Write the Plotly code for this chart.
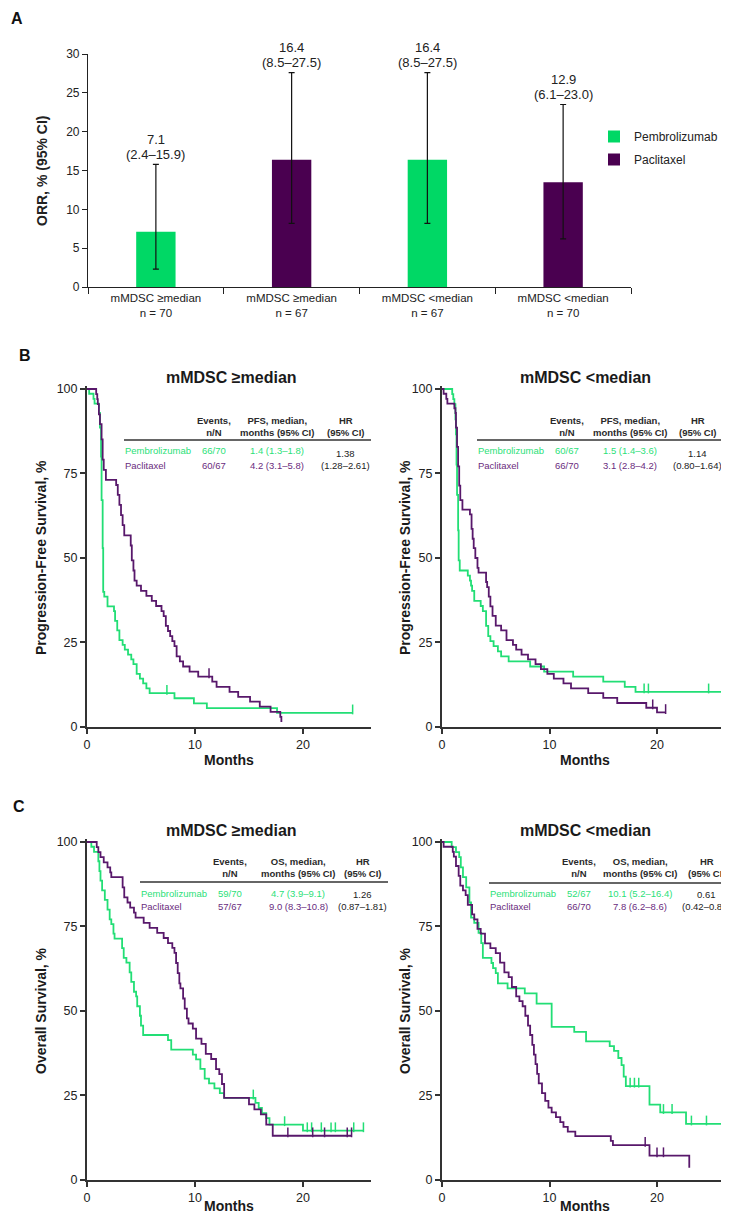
import plotly.graph_objects as go

W, H = 729, 1212
GREEN_BAR = "#00D865"
PURPLE_BAR = "#4A0050"
GREEN_LINE = "#22DE75"
PURPLE_LINE = "#58186B"
GREEN_TXT = "#2BDF78"
PURPLE_TXT = "#6A2C7E"
DARK = "#2a2a2a"
NARROW = "Liberation Sans Narrow, Arial Narrow, Liberation Sans, Arial, sans-serif"
ARIAL = "Liberation Sans, Arial, Helvetica, sans-serif"

# ---------------- Panel A data ----------------
orr_categories = ["mMDSC ≥median<br>n = 70", "mMDSC ≥median<br>n = 67",
                  "mMDSC &lt;median<br>n = 67", "mMDSC &lt;median<br>n = 70"]
orr_arm = ["Pembrolizumab", "Paclitaxel", "Pembrolizumab", "Paclitaxel"]
orr_value = [7.1, 16.4, 16.4, 13.5]
orr_ci_low = [2.3, 8.2, 8.2, 6.2]
orr_ci_high = [15.8, 27.6, 27.6, 23.5]
orr_label = ["7.1", "16.4", "16.4", "12.9"]
orr_ci_label = ["(2.4–15.9)", "(8.5–27.5)", "(8.5–27.5)", "(6.1–23.0)"]
orr_yticks = [0, 5, 10, 15, 20, 25, 30]

# ---------------- Panel B: PFS ----------------
pfs_hi_pem_t = [0, 0.2, 0.6, 0.7, 1.1, 1.2, 1.3, 1.35, 1.45, 1.5, 1.6, 1.9, 2.5, 2.6, 2.8, 3.0, 3.3, 3.5,
                3.8, 4.1, 4.3, 4.6, 4.9, 5.2, 5.5, 5.8, 8.1, 9.9, 11.1, 17.6]
pfs_hi_pem_s = [100, 98.6, 97.1, 95.7, 92.9, 88.6, 80.0, 67.1, 52.9, 40.0, 38.6, 35.7, 34.3, 31.4, 28.6, 25.7,
                24.3, 22.9, 21.4, 20.0, 18.6, 15.7, 14.3, 12.9, 11.4, 10.0, 8.5, 7.0, 5.6, 4.2]
pfs_hi_pem_cens = [7.4, 24.6]

pfs_hi_pac_t = [0, 0.85, 0.95, 1.0, 1.1, 1.2, 1.35, 1.45, 1.55, 1.75, 2.7, 2.85, 3.0, 3.15, 3.3, 3.45, 4.05,
                4.15, 4.3, 4.4, 4.6, 5.0, 5.5, 6.0, 6.4, 6.9, 7.1, 7.3, 7.5, 7.7, 7.9, 8.1, 8.3, 8.6, 8.9,
                9.5, 10.3, 11.6, 12.0, 13.2, 14.0, 15.1, 16.0, 17.0, 17.9, 18.0]
pfs_hi_pac_s = [100, 98.5, 97.0, 95.5, 92.5, 89.6, 85.1, 79.1, 76.1, 73.1, 71.6, 68.7, 65.7, 62.7, 59.7, 56.7,
                53.7, 49.3, 46.3, 43.3, 41.8, 40.3, 38.8, 37.3, 35.8, 34.3, 32.8, 29.9, 28.4, 26.9, 25.4,
                23.9, 20.9, 19.4, 17.9, 16.4, 14.9, 13.4, 11.9, 10.4, 8.9, 7.5, 6.0, 4.5, 3.0, 1.5]
pfs_hi_pac_cens = [11.3]

pfs_lo_pem_t = [0, 0.95, 1.05, 1.15, 1.25, 1.3, 1.35, 1.4, 1.5, 1.55, 1.65, 2.4, 2.6, 2.7, 2.8, 3.0, 3.6,
                3.8, 4.1, 4.3, 4.5, 4.8, 5.2, 5.5, 6.2, 8.2, 9.5, 12.2, 15.0, 17.0, 18.0]
pfs_lo_pem_s = [100, 98.5, 97.0, 95.5, 91.0, 86.6, 77.6, 68.7, 58.2, 49.3, 46.3, 44.8, 43.3, 41.8, 40.3,
                37.3, 35.8, 34.3, 29.9, 26.9, 25.4, 23.9, 22.4, 20.9, 19.4, 17.9, 16.4, 14.9, 13.4, 11.9, 10.4]
pfs_lo_pem_cens = [18.8, 19.2, 24.8, 26.6]

pfs_lo_pac_t = [0, 0.15, 0.4, 0.5, 1.15, 1.25, 1.3, 1.4, 1.5, 1.6, 1.7, 1.9, 2.6, 2.75, 2.85, 2.95, 3.1,
                3.3, 3.4, 4.1, 4.2, 4.35, 4.5, 4.7, 5.0, 5.5, 6.0, 6.6, 6.9, 7.4, 8.0, 8.7, 9.2, 9.8, 10.4,
                11.3, 12.0, 13.6, 15.0, 16.3, 19.0, 20.0]
pfs_lo_pac_s = [100, 98.6, 97.1, 95.7, 94.3, 92.9, 88.6, 82.9, 77.1, 71.4, 67.1, 64.3, 62.9, 58.6, 55.7,
                52.9, 50.0, 47.1, 45.7, 42.9, 41.4, 38.6, 35.7, 32.9, 30.0, 28.6, 25.7, 24.3, 22.9, 21.4,
                20.0, 18.6, 17.1, 15.7, 14.3, 12.9, 11.4, 10.0, 8.6, 7.1, 5.7, 4.3]
pfs_lo_pac_cens = [19.6, 20.8]

# ---------------- Panel C: OS ----------------
os_hi_pem_t = [0, 0.4, 0.65, 1.05, 1.15, 1.25, 1.4, 1.65, 1.9, 2.1, 2.25, 2.45, 2.55, 3.25, 3.4, 3.65, 3.95,
               4.1, 4.35, 4.55, 4.65, 4.9, 5.0, 5.2, 7.5, 7.8, 9.8, 10.1, 10.5, 10.9, 11.3, 11.8, 12.3,
               12.7, 15.6, 15.9, 16.2, 16.6, 16.9, 20.0]
os_hi_pem_s = [100, 98.6, 97.1, 94.3, 91.4, 88.6, 85.7, 82.9, 80.0, 77.1, 75.7, 72.9, 71.4, 68.6, 65.7,
               64.3, 61.4, 58.6, 55.7, 54.3, 51.4, 48.6, 45.7, 42.9, 41.4, 38.6, 37.1, 35.7, 32.9, 30.0,
               28.6, 27.1, 25.7, 24.3, 22.8, 21.3, 19.8, 18.3, 16.4, 14.6]
os_hi_pem_cens = [15.4, 18.3, 20.4, 20.8, 21.7, 22.6, 23.0, 24.7, 25.6]

os_hi_pac_t = [0, 0.9, 1.05, 1.25, 1.55, 1.9, 2.15, 2.25, 3.3, 3.45, 3.75, 4.0, 4.35, 4.5, 5.25, 5.8, 6.5,
               7.1, 7.5, 7.9, 8.1, 8.25, 8.4, 8.55, 8.65, 8.9, 9.05, 9.25, 9.4, 9.8, 10.1, 10.6, 11.0, 11.5,
               11.95, 12.25, 12.5, 12.7, 15.0, 15.5, 16.1, 16.6, 17.2]
os_hi_pac_s = [100, 98.5, 97.0, 95.5, 94.0, 92.5, 91.0, 89.6, 86.6, 83.6, 82.1, 80.6, 79.1, 77.6, 76.1,
               74.6, 73.1, 71.6, 70.1, 68.7, 67.2, 64.2, 61.2, 58.2, 56.7, 53.7, 50.7, 47.8, 46.3, 44.8,
               41.8, 40.3, 37.3, 35.8, 32.8, 31.3, 28.4, 24.3, 22.4, 20.9, 19.4, 16.4, 13.1]
os_hi_pac_cens = [18.6, 20.9, 22.0, 24.1, 24.5]

os_lo_pem_t = [0, 0.9, 1.3, 1.6, 1.75, 1.95, 2.25, 2.55, 2.7, 3.0, 3.4, 3.65, 3.8, 4.6, 4.75, 5.0, 5.2,
               6.1, 7.7, 8.8, 10.2, 12.3, 13.4, 15.6, 16.0, 16.4, 16.7, 16.9, 17.1, 19.3, 20.3, 22.7]
os_lo_pem_s = [100, 98.5, 97.0, 95.5, 92.5, 89.6, 86.6, 82.1, 77.6, 76.1, 73.1, 70.1, 65.7, 64.2, 62.7,
               61.2, 58.2, 56.7, 55.2, 52.2, 45.3, 43.8, 41.0, 39.6, 38.2, 36.1, 34.0, 30.6, 27.8, 22.3,
               20.0, 16.6]
os_lo_pem_cens = [17.5, 17.9, 18.3, 20.6, 21.4, 23.2, 24.6, 26.3]

os_lo_pac_t = [0, 0.15, 1.0, 1.1, 1.3, 1.55, 1.7, 1.95, 2.2, 2.4, 2.8, 3.0, 3.3, 3.6, 4.0, 4.5, 5.0, 5.4,
               5.8, 6.2, 6.5, 6.9, 7.2, 7.5, 7.75, 8.0, 8.2, 8.4, 8.55, 8.7, 8.85, 9.0, 9.3, 9.6, 9.9,
               10.2, 10.6, 11.0, 11.3, 11.7, 12.4, 15.7, 15.9, 19.3, 23.0]
os_lo_pac_s = [100, 98.6, 97.1, 95.7, 92.9, 90.0, 87.1, 85.7, 84.3, 81.4, 78.6, 77.1, 74.3, 72.9, 70.0,
               68.6, 67.1, 64.3, 61.4, 60.0, 57.1, 54.3, 52.9, 51.4, 48.6, 45.7, 42.9, 40.0, 37.1, 34.3,
               31.4, 28.6, 25.7, 23.4, 21.4, 20.0, 18.6, 17.1, 15.7, 14.3, 13.0, 11.6, 10.3, 7.2, 3.6]
os_lo_pac_cens = [18.9, 20.0, 20.6]

km_xticks = [0, 10, 20]
km_yticks = [0, 25, 50, 75, 100]

# ---------------- Table text ----------------
tab_headers_pfs = ["Events,<br>n/N", "PFS, median,<br>months (95% CI)", "HR<br>(95% CI)"]
tab_headers_os = ["Events,<br>n/N", "OS, median,<br>months (95% CI)", "HR<br>(95% CI)"]
arm_names = ["Pembrolizumab", "Paclitaxel"]
pfs_hi_events = ["66/70", "60/67"]
pfs_hi_median = ["1.4 (1.3–1.8)", "4.2 (3.1–5.8)"]
pfs_hi_hr = "1.38<br>(1.28–2.61)"
pfs_lo_events = ["60/67", "66/70"]
pfs_lo_median = ["1.5 (1.4–3.6)", "3.1 (2.8–4.2)"]
pfs_lo_hr = "1.14<br>(0.80–1.64)"
os_hi_events = ["59/70", "57/67"]
os_hi_median = ["4.7 (3.9–9.1)", "9.0 (8.3–10.8)"]
os_hi_hr = "1.26<br>(0.87–1.81)"
os_lo_events = ["52/67", "66/70"]
os_lo_median = ["10.1 (5.2–16.4)", "7.8 (6.2–8.6)"]
os_lo_hr = "0.61<br>(0.42–0.88)"


def px(x):
    return x / W


def py(y):
    return 1 - y / H


def ann(x, y, text, size, color=DARK, bold=False, xanchor="center", yanchor="middle",
        family=ARIAL, angle=0):
    return dict(x=px(x), y=py(y), xref="paper", yref="paper",
                text=f"<b>{text}</b>" if bold else text, showarrow=False,
                font=dict(size=size, color=color, family=family),
                xanchor=xanchor, yanchor=yanchor, textangle=angle, borderpad=0)


def step_xy(t, s, cens):
    end = max([t[-1]] + list(cens))
    return list(t) + [end], list(s) + [s[-1]]


def surv_at(t, s, c):
    v = s[0]
    for ti, si in zip(t, s):
        if ti <= c:
            v = si
    return v


fig = go.Figure()
annotations = []
shapes = []

# ---------------- Panel A ----------------
for arm, color in [("Pembrolizumab", GREEN_BAR), ("Paclitaxel", PURPLE_BAR)]:
    idx = [i for i, a in enumerate(orr_arm) if a == arm]
    fig.add_trace(go.Bar(
        x=[orr_categories[i] for i in idx],
        y=[orr_value[i] for i in idx],
        name=arm, legendgroup=arm, marker=dict(color=color, line=dict(width=0)), width=0.29,
        error_y=dict(type="data", symmetric=False,
                     array=[orr_ci_high[i] - orr_value[i] for i in idx],
                     arrayminus=[orr_value[i] - orr_ci_low[i] for i in idx],
                     color="#111", thickness=1.2, width=3),
        xaxis="x", yaxis="y", showlegend=True))

for i, cat in enumerate(orr_categories):
    annotations.append(dict(x=cat, y=orr_ci_high[i], xref="x", yref="y", text=orr_ci_label[i],
                            showarrow=False, yanchor="middle", yshift=10, borderpad=0,
                            font=dict(size=13, color="#222", family=NARROW)))
    annotations.append(dict(x=cat, y=orr_ci_high[i], xref="x", yref="y", text=orr_label[i],
                            showarrow=False, yanchor="middle", yshift=25, borderpad=0,
                            font=dict(size=13, color="#222", family=NARROW)))

layout_axes = dict(
    xaxis=dict(domain=[px(80), px(623)], anchor="y", type="category",
               categoryorder="array", categoryarray=orr_categories,
               tickson="boundaries", ticks="outside", ticklen=6, tickcolor="#222",
               showline=True, linecolor="#222", linewidth=1.2, showgrid=False,
               tickfont=dict(size=11.5, family=NARROW, color="#222")),
    yaxis=dict(domain=[py(279), py(46)], anchor="x", range=[0, 30], tickvals=orr_yticks,
               ticks="outside", ticklen=5, tickcolor="#222", showline=True, linecolor="#222",
               linewidth=1.2, showgrid=False, zeroline=False,
               tickfont=dict(size=12, family=NARROW, color="#222")),
)
annotations.append(ann(34, 163, "ORR, % (95% CI)", 14, color="#222", bold=True, angle=-90))
annotations.append(ann(2, 11, "A", 16, color="#111", bold=True, xanchor="left"))

# ---------------- KM panels ----------------
panels = [
    dict(ax=2, x0=79, x1=363, y100=381, y0=719, xmax=26.3, title="mMDSC ≥median", tx=223, ty=369,
         ytitle="Progression-Free Survival, %", ytx=33, mx=221, my=752,
         curves=[(pfs_hi_pem_t, pfs_hi_pem_s, pfs_hi_pem_cens, GREEN_LINE),
                 (pfs_hi_pac_t, pfs_hi_pac_s, pfs_hi_pac_cens, PURPLE_LINE)],
         tl=116, tr=363, hy=418.5, ly=432, rows=(443, 457), cols=(206, 269, 337),
         headers=tab_headers_pfs, events=pfs_hi_events, medians=pfs_hi_median, hr=pfs_hi_hr),
    dict(ax=3, x0=434, x1=729, y100=381, y0=719, xmax=27.44, title="mMDSC &lt;median", tx=577, ty=369,
         ytitle="Progression-Free Survival, %", ytx=397, mx=577, my=752,
         curves=[(pfs_lo_pem_t, pfs_lo_pem_s, pfs_lo_pem_cens, GREEN_LINE),
                 (pfs_lo_pac_t, pfs_lo_pac_s, pfs_lo_pac_cens, PURPLE_LINE)],
         tl=469, tr=717, hy=418.5, ly=432, rows=(443, 457), cols=(559, 622, 689),
         headers=tab_headers_pfs, events=pfs_lo_events, medians=pfs_lo_median, hr=pfs_lo_hr),
    dict(ax=4, x0=79, x1=363, y100=834, y0=1172, xmax=26.3, title="mMDSC ≥median", tx=223, ty=822,
         ytitle="Overall Survival, %", ytx=33, mx=221, my=1198,
         curves=[(os_hi_pem_t, os_hi_pem_s, os_hi_pem_cens, GREEN_LINE),
                 (os_hi_pac_t, os_hi_pac_s, os_hi_pac_cens, PURPLE_LINE)],
         tl=132, tr=380, hy=859.5, ly=874, rows=(885, 898), cols=(222, 290, 354),
         headers=tab_headers_os, events=os_hi_events, medians=os_hi_median, hr=os_hi_hr),
    dict(ax=5, x0=434, x1=729, y100=834, y0=1172, xmax=27.44, title="mMDSC &lt;median", tx=577, ty=822,
         ytitle="Overall Survival, %", ytx=397, mx=577, my=1198,
         curves=[(os_lo_pem_t, os_lo_pem_s, os_lo_pem_cens, GREEN_LINE),
                 (os_lo_pac_t, os_lo_pac_s, os_lo_pac_cens, PURPLE_LINE)],
         tl=481, tr=729, hy=859.5, ly=875, rows=(885, 898), cols=(571, 632, 698),
         headers=tab_headers_os, events=os_lo_events, medians=os_lo_median, hr=os_lo_hr),
]

YTOP = 100.8
for p in panels:
    n = p["ax"]
    xa, ya = f"x{n}", f"y{n}"
    pxper = (p["y0"] - p["y100"]) / 100.0
    top_px = p["y0"] - YTOP * pxper
    layout_axes[f"xaxis{n}"] = dict(
        domain=[px(p["x0"]), px(p["x1"])], anchor=ya, range=[0, p["xmax"]], tickvals=km_xticks,
        ticks="outside", ticklen=5, tickwidth=1.5, tickcolor="#333", showline=True,
        linecolor="#333", linewidth=2, showgrid=False, zeroline=False,
        tickfont=dict(size=12.5, family=NARROW, color="#222"))
    layout_axes[f"yaxis{n}"] = dict(
        domain=[py(p["y0"]), py(top_px)], anchor=xa, range=[0, YTOP], tickvals=km_yticks,
        ticks="outside", ticklen=5, tickwidth=1.5, tickcolor="#333", showline=True,
        linecolor="#333", linewidth=2, showgrid=False, zeroline=False,
        tickfont=dict(size=12.5, family=NARROW, color="#222"))
    for t, s, cens, col in p["curves"]:
        x, y = step_xy(t, s, cens)
        fig.add_trace(go.Scatter(x=x, y=y, mode="lines", line=dict(color=col, width=1.8, shape="hv"),
                                 xaxis=xa, yaxis=ya, showlegend=False, hoverinfo="skip"))
        fig.add_trace(go.Scatter(x=list(cens), y=[surv_at(t, s, c) + 1.0 for c in cens], mode="markers",
                                 marker=dict(symbol="line-ns", size=7, line=dict(color=col, width=1.5)),
                                 xaxis=xa, yaxis=ya, showlegend=False, hoverinfo="skip"))
    annotations.append(ann(p["tx"], p["ty"], p["title"], 16, color="#1a1a1a", bold=True))
    annotations.append(ann(p["ytx"], (p["y0"] + p["y100"]) / 2, p["ytitle"], 14, color="#1a1a1a",
                           bold=True, angle=-90))
    annotations.append(ann(p["mx"], p["my"], "Months", 14, color="#1a1a1a", bold=True))
    # table
    for hx, htxt in zip(p["cols"], p["headers"]):
        annotations.append(ann(hx, p["hy"], htxt, 9.5, color=DARK, bold=True))
    shapes.append(dict(type="line", xref="paper", yref="paper", x0=px(p["tl"]), x1=px(p["tr"]),
                       y0=py(p["ly"]), y1=py(p["ly"]), line=dict(color="#333", width=1.5)))
    for r, (name, ev, med, tc) in enumerate(zip(arm_names, p["events"], p["medians"],
                                                 [GREEN_TXT, PURPLE_TXT])):
        ry = p["rows"][r]
        annotations.append(ann(p["tl"], ry, name, 9.5, color=tc, xanchor="left"))
        annotations.append(ann(p["cols"][0], ry, ev, 9.5, color=tc))
        annotations.append(ann(p["cols"][1], ry, med, 9.5, color=tc))
    annotations.append(ann(p["cols"][2], (p["rows"][0] + p["rows"][1]) / 2 + 1, p["hr"], 9.5, color="#222"))

annotations.append(ann(10, 347, "B", 16, color="#111", bold=True, xanchor="left"))
annotations.append(ann(4, 798, "C", 16, color="#111", bold=True, xanchor="left"))

fig.update_layout(
    width=W, height=H, margin=dict(l=0, r=0, t=0, b=0, autoexpand=False),
    paper_bgcolor="white", plot_bgcolor="white", barmode="overlay",
    font=dict(family=ARIAL, color="#222"),
    legend=dict(x=px(586), y=py(114), xanchor="left", yanchor="top", tracegroupgap=4,
                font=dict(size=12, family=NARROW, color="#222"), bgcolor="rgba(0,0,0,0)",
                itemclick=False, itemdoubleclick=False),
    annotations=annotations, shapes=shapes, **layout_axes)

fig.write_html("out.html")
